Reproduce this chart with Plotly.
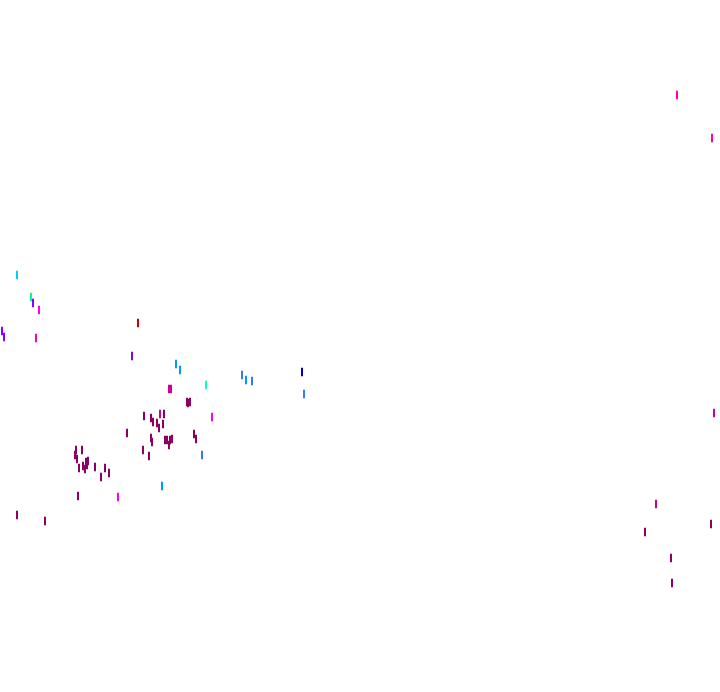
import plotly.graph_objects as go

# Point positions (data units)
x_vals = [17, 31, 33, 39, 2, 4, 36,
          138, 132, 176, 180, 206, 169, 171,
          242, 246, 252, 302, 304,
          188, 187, 190, 144, 151, 160, 164, 153, 157, 163, 159, 212,
          127, 151, 152, 167, 170, 169, 165, 172, 194, 196, 143, 149, 202,
          76, 75, 77, 82, 88, 87, 86, 83, 79, 85, 95, 105, 109, 101,
          162, 78, 118, 17, 45,
          677, 712, 714, 656, 711, 645, 671, 672]
y_vals = [275, 297, 303, 310, 331, 337, 338,
          323, 356, 364, 370, 385, 389, 389,
          375, 380, 381, 372, 394,
          403, 402, 402, 416, 418, 414, 414, 422, 423, 424, 428, 417,
          433, 438, 442, 440, 440, 445, 440, 439, 434, 439, 450, 456, 455,
          450, 455, 459, 450, 461, 465, 462, 466, 468, 469, 467, 468, 473, 477,
          486, 496, 497, 515, 521,
          95, 138, 413, 504, 524, 532, 558, 583]
groups = ["cyan", "green", "violet", "pink", "violet", "violet", "rose",
          "red", "violet", "sky", "sky", "aqua", "magenta", "magenta",
          "blue", "sky", "blue", "navy", "blue",
          "plum", "plum", "plum", "plum", "plum", "magenta", "plum", "plum", "plum", "plum", "plum", "pink",
          "plum", "plum", "plum", "plum", "plum", "plum", "plum", "plum", "plum", "plum", "plum", "plum", "blue",
          "plum", "plum", "plum", "plum", "plum", "plum", "plum", "plum", "plum", "plum", "plum", "plum", "plum", "plum",
          "sky", "plum", "pink", "plum", "plum",
          "rose", "rose", "magenta", "magenta", "plum", "plum", "plum", "plum"]

palette = {
    "plum": "#8c0064",
    "magenta": "#cc0099",
    "rose": "#ff00aa",
    "pink": "#ff00ee",
    "violet": "#8800ff",
    "navy": "#0000cc",
    "blue": "#3377ff",
    "sky": "#0099ff",
    "cyan": "#00ccff",
    "aqua": "#00ffcc",
    "green": "#00ff88",
    "red": "#cc0000",
}
colors = [palette[g] for g in groups]

fig = go.Figure(go.Scatter(
    x=x_vals, y=y_vals, mode="markers",
    marker=dict(symbol="line-ns", size=6, line=dict(width=2, color=colors), color=colors),
    hoverinfo="skip", showlegend=False, cliponaxis=False,
))
fig.update_layout(
    width=720, height=692,
    margin=dict(l=0, r=0, t=0, b=0),
    paper_bgcolor="white", plot_bgcolor="white",
    xaxis=dict(range=[0, 720], visible=False, fixedrange=True),
    yaxis=dict(range=[692, 0], visible=False, fixedrange=True),
)
fig.write_html(
    "out.html",
    config={"displayModeBar": False},
    post_script="document.body.style.margin='0';document.body.style.overflow='hidden';",
)
